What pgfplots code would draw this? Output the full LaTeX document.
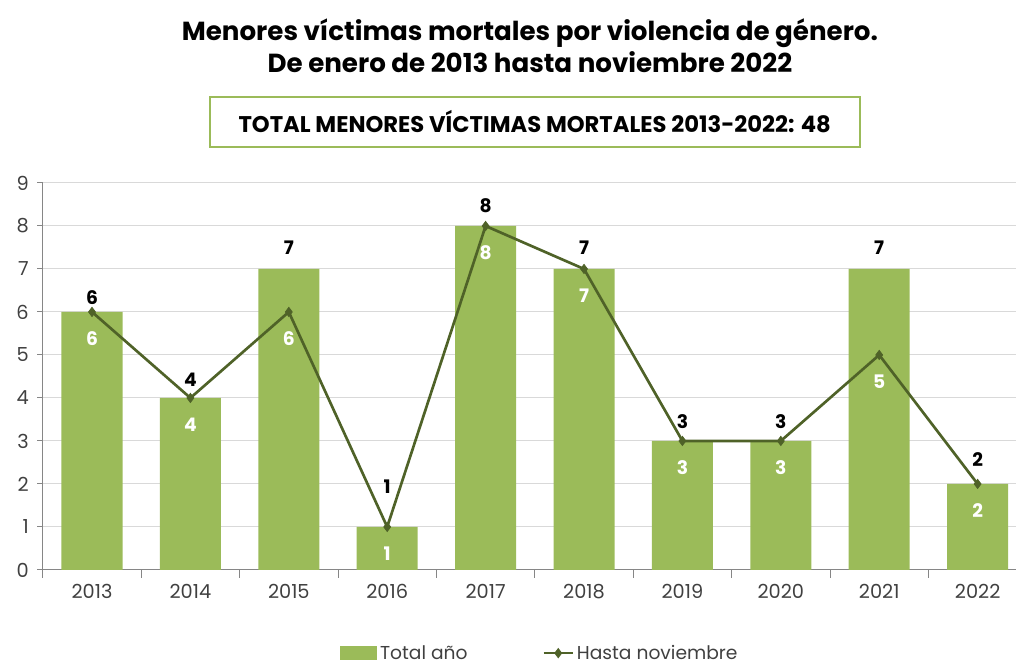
\documentclass[border=0pt]{standalone}
\usepackage{fontspec}
\setmainfont{Poppins}
\usepackage{pgfplots}
\pgfplotsset{compat=1.18}
\usepackage{pgfplotstable}
\definecolor{barg}{HTML}{9BBB59}
\definecolor{lineg}{HTML}{4F6228}
\definecolor{gridg}{HTML}{D9D9D9}
\definecolor{axg}{HTML}{868686}
\definecolor{tickt}{HTML}{404040}
\pgfplotstableread{
x total nov off
0 6 6 10.5
1 4 4 13.5
2 7 6 15.75
3 1 1 30
4 8 8 15
5 7 7 15.75
6 3 3 14.25
7 3 3 14.25
8 7 5 15.75
9 2 2 18
}\data
\begin{document}
\begin{tikzpicture}
\path[use as bounding box] (-32.1pt,-72pt) rectangle (730pt,427.5pt);
\begin{axis}[
  at={(0pt,0pt)}, anchor=south west, scale only axis,
  width=730pt, height=290.25pt,
  xmin=-0.5, xmax=9.39, ymin=0, ymax=9,
  xtick={0,1,2,3,4,5,6,7,8,9},
  xticklabels={2013,2014,2015,2016,2017,2018,2019,2020,2021,2022},
  minor xtick={-0.5,0.5,1.5,2.5,3.5,4.5,5.5,6.5,7.5,8.5},
  ytick={0,1,2,3,4,5,6,7,8,9},
  ymajorgrids, grid style={gridg, line width=0.75pt},
  axis x line*=bottom, axis y line*=left,
  axis line style={draw=axg, line width=0.75pt, -},
  tick align=outside,
  major x tick style={draw=none},
  minor x tick style={draw=axg, line width=0.75pt},
  minor tick length=6pt,
  major y tick style={draw=axg, line width=0.75pt},
  major tick length=4pt,
  /pgf/number format/assume math mode=true,
  ticklabel style={font=\fontsize{14.5}{14.5}\selectfont, text=tickt},
  yticklabel style={xshift=-3pt},
  xticklabel style={yshift=-3pt},
  legend style={at={(0.511,-0.215)}, anchor=center, draw=none, fill=none,
    legend columns=2, font=\fontsize{14}{14}\selectfont, text=tickt,
    /tikz/every even column/.append style={column sep=54pt}},
]
\addplot[ybar, bar width=0.62, fill=barg, draw=none,
  legend image code/.code={\fill[barg] (0pt,-5pt) rectangle (28pt,5pt);},
  visualization depends on={\thisrow{off}\as\labeloff},
  nodes near coords,
  every node near coord/.append style={anchor=center, yshift=\labeloff pt,
    font=\bfseries\fontsize{14}{14}\selectfont, text=black}]
  table[x=x,y=total]{\data};
\addlegendentry{Total año}
\addplot[lineg, line width=2pt, mark=diamond*, mark size=3.5pt,
  mark options={fill=lineg, line width=0.5pt},
  legend image code/.code={\draw[mark repeat=2,mark phase=2] plot coordinates {(0pt,0pt) (11pt,0pt) (22pt,0pt)};},
  nodes near coords,
  every node near coord/.append style={anchor=center, yshift=-20pt,
    font=\bfseries\fontsize{14}{14}\selectfont, text=white}]
  table[x=x,y=nov]{\data};
\addlegendentry{Hasta noviembre}
\end{axis}
\node[align=center, font=\bfseries\fontsize{19.6}{24}\selectfont] at (365.4pt,393pt)
  {Menores víctimas mortales por violencia de género.\\De enero de 2013 hasta noviembre 2022};
\draw[barg, line width=1.8pt] (125.4pt,317.25pt) rectangle (612.9pt,354.75pt);
\node[font=\bfseries\fontsize{17}{17}\selectfont] at (369pt,336pt)
  {TOTAL MENORES VÍCTIMAS MORTALES 2013-2022: 48};
\end{tikzpicture}
\end{document}
